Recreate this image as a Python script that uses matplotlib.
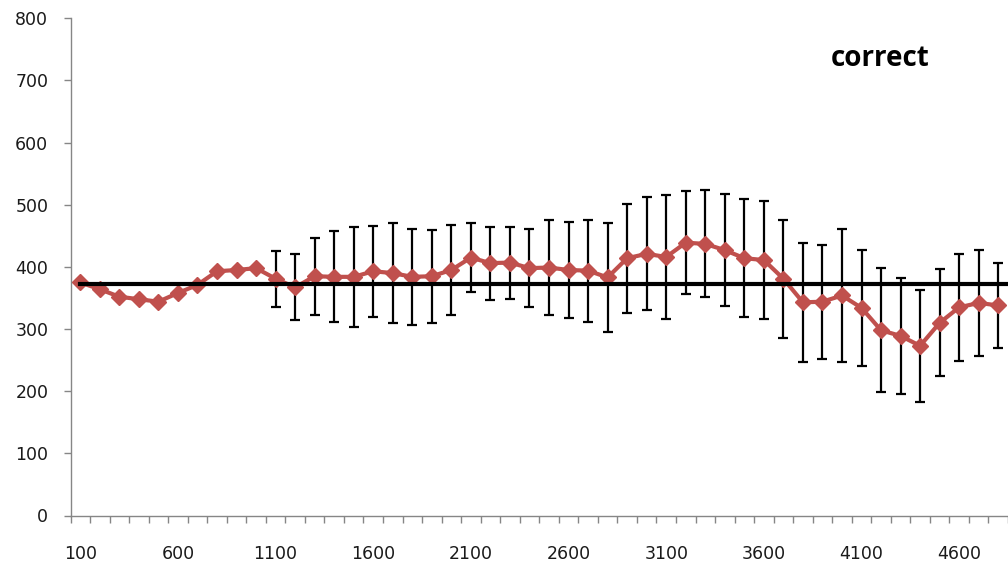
import numpy as np
import matplotlib
matplotlib.use("Agg")
import matplotlib.pyplot as plt

# categories on the x axis
cats = list(range(100, 4900, 100))

# mean values (red series)
values = [375, 364, 352, 348, 344, 358, 371, 393, 395, 398,
          381, 367, 385, 384, 384, 393, 390, 384, 385, 395,
          415, 406, 407, 398, 399, 395, 394, 383, 414, 421,
          416, 439, 437, 427, 414, 411, 381, 343, 344, 354,
          334, 298, 289, 273, 310, 335, 342, 338]

# error bar half widths (none for the first ten points)
errors = [np.nan] * 10 + [
    45, 53, 62, 73, 80, 73, 81, 77, 75, 72,
    55, 59, 58, 63, 77, 77, 82, 88, 88, 91,
    100, 83, 86, 90, 95, 95, 95, 96, 92, 107,
    93, 100, 93, 90, 86, 86, 85, 68]

# reference level (black line)
reference = [373] * len(cats)

xpos = np.arange(len(cats))

fig = plt.figure(figsize=(10.08, 5.64), dpi=100)
ax = fig.add_axes([70.5 / 1008, 48.5 / 564, 937.5 / 1008, 497.2 / 564])

ax.errorbar(xpos, values, yerr=errors, fmt="none", ecolor="black",
            elinewidth=1.6, capsize=3.6, capthick=1.6, zorder=2)
ax.plot(xpos, values, color="#C0504D", lw=3, marker="D", markersize=8.5,
        markeredgecolor="#C0504D", zorder=3)
# reference line runs on past the cropped right edge
ax.plot(list(xpos) + [len(cats)], reference + [reference[-1]],
        color="black", lw=3, zorder=4)

ax.set_xlim(-0.5, 47.05)
ax.set_ylim(0, 800)

for side in ["top", "right"]:
    ax.spines[side].set_visible(False)
for side in ["left", "bottom"]:
    ax.spines[side].set_color("#868686")
    ax.spines[side].set_linewidth(1)

ax.set_yticks(range(0, 801, 100))
ax.tick_params(axis="y", length=5, width=1, color="#868686", pad=11,
               labelsize=12.5, labelcolor="#1a1a1a")

ax.set_xticks(xpos[::5])
ax.set_xticklabels([str(c) for c in cats[::5]])
ax.set_xticks(np.arange(-0.5, len(cats) + 0.5, 1), minor=True)
ax.tick_params(axis="x", which="major", length=0, pad=21,
               labelsize=12.5, labelcolor="#1a1a1a")
ax.tick_params(axis="x", which="minor", length=5, width=1, color="#868686")

fig.text(880 / 1008, 1 - 58 / 564, "correct", fontfamily="Open Sans",
         fontweight="bold", fontsize=20, ha="center", va="center")

fig.savefig("out.png", dpi=100)
